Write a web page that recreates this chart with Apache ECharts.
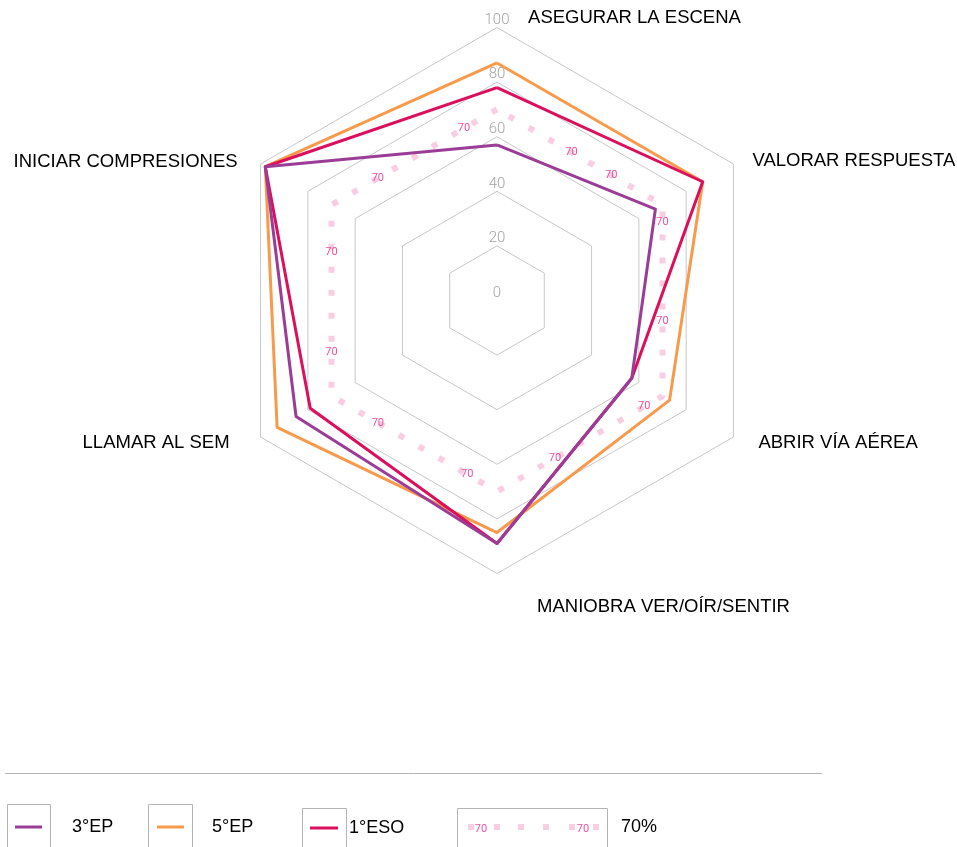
<!DOCTYPE html>
<html>
<head>
<meta charset="utf-8">
<script src="https://cdn.jsdelivr.net/npm/echarts@6/dist/echarts.min.js"></script>
<style>html,body{margin:0;padding:0;background:#fff}#c{width:957px;height:847px}</style>
</head>
<body>
<div id="c"></div>
<script>
// ---- data (clockwise order from the top) ----
const categories = ['ASEGURAR LA ESCENA', 'VALORAR RESPUESTA', 'ABRIR VÍA AÉREA', 'MANIOBRA VER/OÍR/SENTIR', 'LLAMAR AL SEM', 'INICIAR COMPRESIONES'];
const seriesNames = ['3°EP', '5°EP', '1°ESO', '70%'];
const ep3 = [57, 67, 57, 89, 85, 98];
const ep5 = [87, 87, 73, 85, 93, 98];
const eso1 = [78, 87, 57, 89, 79, 98];
const threshold = [70, 70, 70, 70, 70, 70];
const tickLabels = [0, 20, 40, 60, 80, 100];

// ---- layout / style ----
const CX = 497, CY = 300.5, R = 273;
const colors = { ep3: '#9b3d97', ep5: '#f89a4c', eso1: '#dc0f5c', thr: '#f9cde2', thrText: '#f0509b' };
// ECharts radar runs counter-clockwise: reorder
const ccwOrder = [0, 5, 4, 3, 2, 1];
const ccw = arr => ccwOrder.map(i => arr[i]);
const ccwNames = ccw(categories);
// name paddings per indicator (ccw order): top, upper-left, lower-left, bottom, lower-right, upper-right
const namePad = [[2,0,0,275],[0,23,4,0],[12,31,0,0],[24,0,0,333],[12,0,0,25],[0,0,6,19]];
// label fractions along each edge (clockwise edges, keyed by ccw start index)
const edgeFrac = {0: [0.45, 0.69], 5: [0.09, 0.61], 4: [0.11, 0.65], 3: [0.18, 0.72], 2: [0.23, 0.75], 1: [0.28, 0.80]};

const rich = {};
namePad.forEach((p, i) => { rich['n' + i] = { padding: p, fontSize: 18.5, color: '#000', fontFamily: 'Liberation Sans' }; });

const indicator = ccwNames.map((n, i) => {
  const o = { name: n, min: 0, max: 100 };
  if (i === 0) o.axisLabel = { show: true };
  return o;
});

const chart = echarts.init(document.getElementById('c'), null, { renderer: 'canvas' });

const legendText = pad => ({ fontSize: 18, color: '#000', fontFamily: 'Liberation Sans', padding: pad });

const option = {
  animation: false,
  backgroundColor: '#fff',
  radar: {
    center: [CX, CY],
    radius: R,
    startAngle: 90,
    shape: 'polygon',
    splitNumber: 5,
    indicator: indicator,
    nameGap: 0,
    axisName: {
      formatter: function (name) { return '{n' + ccwNames.indexOf(name) + '|' + name + '}'; },
      rich: rich
    },
    axisLine: { show: false },
    axisTick: { show: false },
    splitArea: { show: false },
    splitLine: { lineStyle: { color: '#c8c8c8', width: 1 } },
    axisLabel: {
      show: false, color: '#a4a4a4', fontSize: 15, fontFamily: 'Roboto', fontWeight: 300,
      margin: 0, align: 'center', verticalAlign: 'bottom',
      formatter: v => tickLabels.indexOf(v) >= 0 ? String(v) : ''
    }
  },
  polar: { center: [CX, CY], radius: R },
  angleAxis: { type: 'category', data: ccwNames, startAngle: 90, clockwise: false, boundaryGap: false, show: false },
  radiusAxis: { min: 0, max: 100, show: false },
  legend: [
    { data: [seriesNames[0]], left: 15, top: 818, padding: 0, icon: 'rect', itemWidth: 27, itemHeight: 3, selectedMode: false,
      textStyle: legendText([0,0,0,25]) },
    { data: [seriesNames[1]], left: 157, top: 818, padding: 0, icon: 'rect', itemWidth: 27, itemHeight: 3, selectedMode: false,
      textStyle: legendText([0,0,0,23]) },
    { data: [seriesNames[2]], left: 310, top: 819, padding: 0, icon: 'rect', itemWidth: 28, itemHeight: 3, selectedMode: false,
      textStyle: legendText([0,0,0,6]) },
    { data: [seriesNames[3]], left: 468, top: 818, padding: 0,
      icon: 'path://M0,0h6v6h-6zM26,0h6v6h-6zM50,0h6v6h-6zM75,0h6v6h-6zM101,0h6v6h-6zM125,0h6v6h-6z',
      itemWidth: 131, itemHeight: 6, selectedMode: false,
      textStyle: legendText([0,0,0,17]) }
  ],
  graphic: [
    { type: 'line', shape: { x1: 5, y1: 773.5, x2: 822, y2: 773.5 }, style: { stroke: '#b4b4b4', lineWidth: 1 } },
    { type: 'rect', shape: { x: 7.5, y: 804.5, width: 43, height: 60 }, style: { fill: null, stroke: '#b4b4b4', lineWidth: 1 } },
    { type: 'rect', shape: { x: 148.5, y: 804.5, width: 44, height: 60 }, style: { fill: null, stroke: '#b4b4b4', lineWidth: 1 } },
    { type: 'rect', shape: { x: 302.5, y: 808.5, width: 44, height: 60 }, style: { fill: null, stroke: '#b4b4b4', lineWidth: 1 } },
    { type: 'rect', shape: { x: 457.5, y: 808.5, width: 150, height: 60 }, style: { fill: null, stroke: '#b4b4b4', lineWidth: 1 } },
    { type: 'text', x: 481, y: 829, style: { text: String(threshold[0]), fill: colors.thrText, fontSize: 11, align: 'center', verticalAlign: 'middle', fontFamily: 'Roboto' } },
    { type: 'text', x: 583, y: 829, style: { text: String(threshold[0]), fill: colors.thrText, fontSize: 11, align: 'center', verticalAlign: 'middle', fontFamily: 'Roboto' } }
  ],
  series: [
    {
      type: 'radar',
      symbol: 'none',
      data: [
        { name: seriesNames[3], value: ccw(threshold), itemStyle: { color: colors.thr },
          lineStyle: { color: colors.thr, width: 6, type: [6, 17], cap: 'butt' } },
        { name: seriesNames[1], value: ccw(ep5), itemStyle: { color: colors.ep5 }, lineStyle: { color: colors.ep5, width: 3 } },
        { name: seriesNames[2], value: ccw(eso1), itemStyle: { color: colors.eso1 }, lineStyle: { color: colors.eso1, width: 3 } },
        { name: seriesNames[0], value: ccw(ep3), itemStyle: { color: colors.ep3 }, lineStyle: { color: colors.ep3, width: 3 } }
      ]
    },
    {
      type: 'custom',
      coordinateSystem: 'polar',
      silent: true,
      z: 5,
      data: ccw(threshold).map((v, i) => [v, i]),
      renderItem: function (params, api) {
        const i = params.dataIndex;
        const n = ccwNames.length;
        const next = (i - 1 + n) % n;
        const vals = ccw(threshold);
        const p = api.coord([api.value(0), i]);
        const q = api.coord([vals[next], next]);
        const children = (edgeFrac[i] || []).map(t => ({
          type: 'text',
          x: p[0] + (q[0] - p[0]) * t,
          y: p[1] + (q[1] - p[1]) * t,
          style: { text: String(api.value(0)), fill: colors.thrText, fontSize: 11, align: 'center', verticalAlign: 'middle', fontFamily: 'Roboto' }
        }));
        return { type: 'group', children: children };
      }
    }
  ]
};
chart.setOption(option);
</script>
</body>
</html>
